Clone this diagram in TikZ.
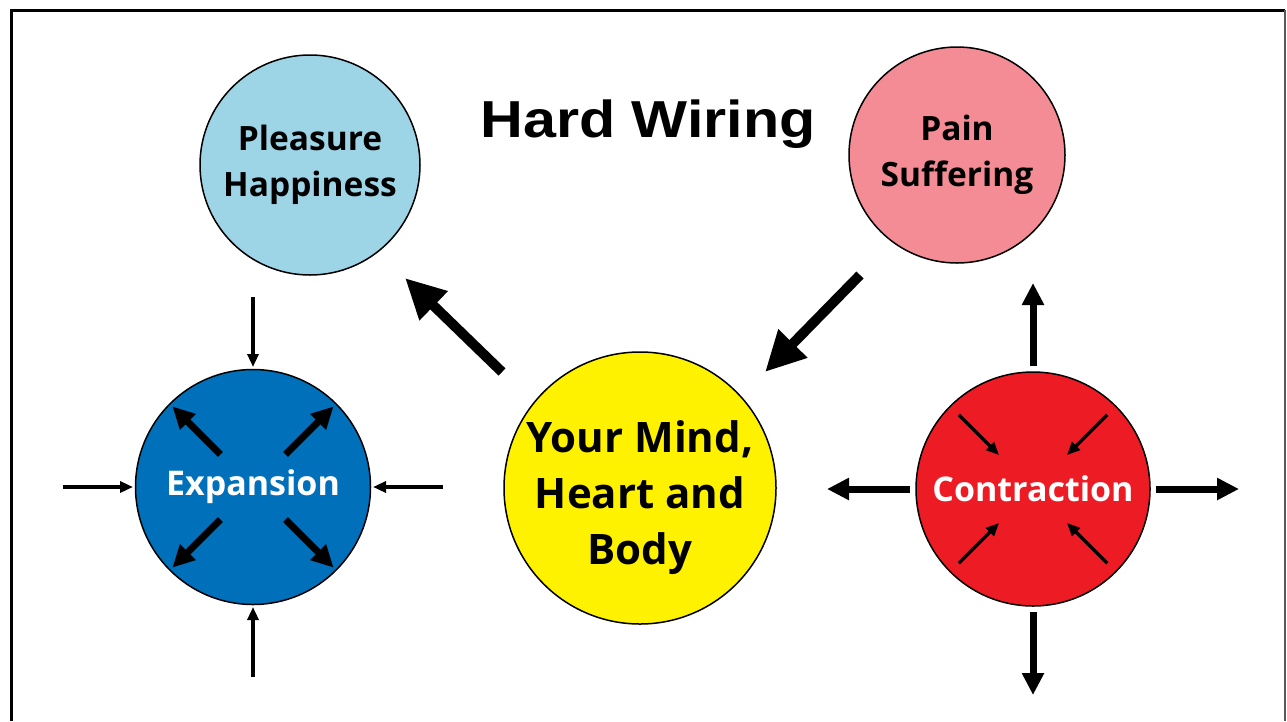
\documentclass[tikz,border=0pt]{standalone}
\usepackage{fontspec}
\setmainfont{Open Sans}
\newfontfamily\titlefont{Liberation Sans}
\usetikzlibrary{arrows.meta, calc}
\definecolor{joyblue}{RGB}{157,213,230}
\definecolor{painpink}{RGB}{244,140,150}
\definecolor{mindyellow}{RGB}{255,242,0}
\definecolor{expblue}{RGB}{0,112,186}
\definecolor{conred}{RGB}{237,28,36}
\tikzset{
        bigarrow/.style={line width=10pt, -{Triangle[length=40pt,width=38pt]}}, % the two arrows round the mind
        midarrow/.style={line width=7pt, -{Triangle[length=22pt,width=21pt]}}, % bold short arrows
        thinarrow/.style={line width=3.3pt, -{Triangle[length=13pt,width=11pt]}}, % thin pointers
    }
\tikzstyle{feeling}=[draw,line width=1.5pt,circle,inner sep=0pt,align=center]

\begin{document}
\begin{tikzpicture}[x=1pt, y=-1pt]
    \useasboundingbox (0,0) rectangle (1287,721);
    % frame
    \draw[line width=3pt] (11,721) -- (11,10) -- (1285,10);
    \draw[line width=2pt, gray!70!black] (1285,10) -- (1285,721);

    \node[anchor=base, xscale=1.14, font=\titlefont\bfseries\fontsize{52}{52}\selectfont]
        (title) at (648,137) {Hard Wiring};

    \node[feeling, fill=joyblue, minimum size=220pt, font=\bfseries\fontsize{33.5}{46}\selectfont]
        (joy) at (310,165) {Pleasure\\Happiness};
    \node[feeling, fill=painpink, minimum size=216pt, font=\bfseries\fontsize{33.5}{46}\selectfont]
        (pain) at (957,155) {Pain\\Suffering};
    \node[feeling, fill=mindyellow, minimum size=272pt] (mind) at (640,488) {};
    \node[align=center, font=\bfseries\fontsize{42}{56}\selectfont]
        (mindtext) at (640,498) {Your Mind,\\Heart and\\Body};
    \node[feeling, fill=expblue, minimum size=235pt, text=white, font=\bfseries\fontsize{34}{34}\selectfont]
        (exp) at (253,487) {Expansion};
    \node[feeling, fill=conred, minimum size=234pt, text=white, font=\bfseries\fontsize{34}{34}\selectfont]
        (con) at (1033,489) {Contraction};

    % mind -> pleasure, pain -> mind
    \coordinate (joyfoot) at (502,372);
    \coordinate (joyhead) at (405,278);
    \coordinate (painfoot) at (860,275);
    \coordinate (painhead) at (765,372);
    \draw[bigarrow] (joyfoot) -- (joyhead);
    \draw[bigarrow] (painfoot) -- (painhead);

    % expansion: pushed in from outside, pushing out inside
    \foreach \a in {0,90,180,270}
        \draw[thinarrow] ($(exp)+(\a:190)$) -- ($(exp)+(\a:120)$);
    \foreach \a in {45,135,225,315}
        \draw[midarrow] ($(exp)+(\a:46)$) -- ($(exp)+(\a:114)$);

    % contraction: pulled in inside, pushing out outside
    \foreach \a in {0,90,180,270}
        \draw[midarrow] ($(con)+(\a:123)$) -- ($(con)+(\a:206)$);
    \foreach \a in {45,135,225,315}
        \draw[thinarrow] ($(con)+(\a:105)$) -- ($(con)+(\a:48)$);
\end{tikzpicture}
\end{document}
